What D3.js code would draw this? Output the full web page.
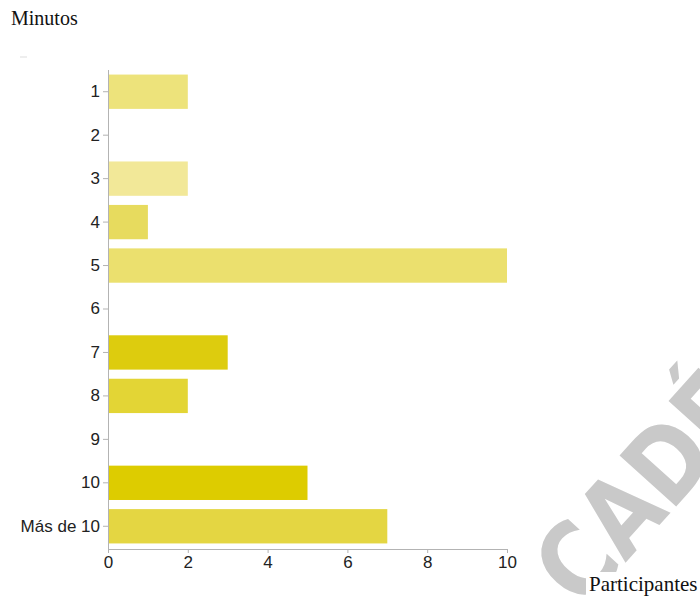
<!DOCTYPE html>
<html>
<head>
<meta charset="utf-8">
<script src="https://cdn.jsdelivr.net/npm/d3@7"></script>
<style>
body { margin: 0; background: #fff; }
.axis text { font-family: "Liberation Sans", Arial, sans-serif; fill: #222; }
.axis path, .axis line { stroke: #b3b3b3; }
</style>
</head>
<body>
<svg id="chart"></svg>
<script>
var categories = ['1', '2', '3', '4', '5', '6', '7', '8', '9', '10', 'Más de 10']
var values = [2, 0, 2, 1, 10, 0, 3, 2, 0, 5, 7]
var barColors = ['#ede37b', '#ede37b', '#f2e898', '#e7db5e', '#ebe06e', '#ebe06e', '#ddcc0e', '#e3d535', '#e3d535', '#ddcc00', '#e4d642']
var xTicks = [0, 2, 4, 6, 8, 10]

var width = 700
var height = 598

var svg = d3.select('#chart').attr('width', width).attr('height', height)

var x = d3.scaleLinear().domain([0, 10]).range([108, 507])
var y = d3.scaleBand().domain(categories).range([70, 548]).paddingInner(0.21).paddingOuter(0.105)

// watermark behind everything
svg.append('text')
	.attr('transform', 'translate(582,611) rotate(-48) scale(0.8,0.95)')
	.attr('font-family', '"DejaVu Sans", sans-serif')
	.attr('font-weight', 'bold')
	.attr('font-size', 110)
	.attr('fill', '#c9c9c9')
	.text('CADÉ')

// bars
svg.append('g').selectAll('rect')
	.data(values)
	.enter().append('rect')
	.attr('x', x(0))
	.attr('y', function(d, i) {return y(categories[i])})
	.attr('width', function(d) {return x(d) - x(0)})
	.attr('height', y.bandwidth())
	.attr('fill', function(d, i) {return barColors[i]})

var yAxis = svg.append('g').attr('class', 'axis')
	.attr('transform', 'translate(' + x(0) + ',0)')
	.call(d3.axisLeft(y).tickSize(5).tickSizeOuter(0).tickPadding(3))
yAxis.selectAll('text').attr('font-size', 17)
yAxis.select('.domain').attr('d', 'M0.5,70V549')

var xAxis = svg.append('g').attr('class', 'axis')
	.attr('transform', 'translate(0,549)')
	.call(d3.axisBottom(x).tickValues(xTicks).tickSize(4).tickSizeOuter(0).tickPadding(3))
xAxis.selectAll('text').attr('font-size', 17)

// axis titles
svg.append('text')
	.attr('x', 11).attr('y', 25)
	.attr('font-family', '"Liberation Serif", "Times New Roman", serif')
	.attr('font-size', 20)
	.attr('fill', '#111')
	.text('Minutos')

svg.append('rect')
	.attr('x', 586).attr('y', 572).attr('width', 114).attr('height', 24)
	.attr('fill', '#fff')

svg.append('text')
	.attr('x', 589).attr('y', 591)
	.attr('font-family', '"Liberation Serif", "Times New Roman", serif')
	.attr('font-size', 21)
	.attr('fill', '#111')
	.text('Participantes')

// leftover of cropped title
svg.append('line')
	.attr('x1', 20).attr('x2', 27).attr('y1', 57).attr('y2', 57)
	.attr('stroke', '#ddd')
</script>
</body>
</html>
